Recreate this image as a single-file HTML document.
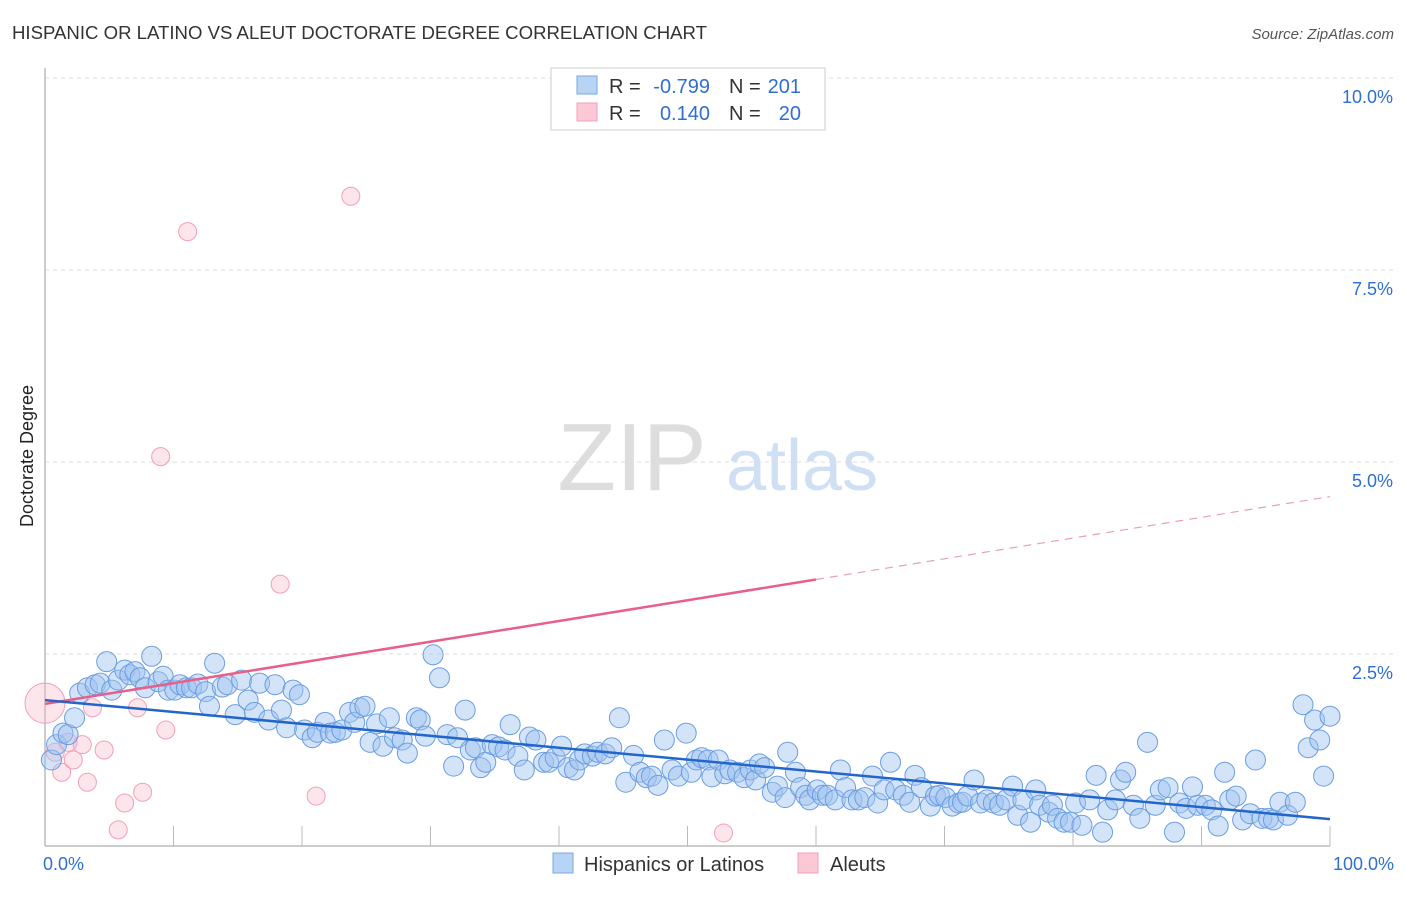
<!DOCTYPE html>
<html><head><meta charset="utf-8"><style>
body{margin:0;background:#fff;font-family:"Liberation Sans",sans-serif}
svg text{font-family:"Liberation Sans",sans-serif}
</style></head><body>
<svg id="chart" width="1406" height="892" xmlns="http://www.w3.org/2000/svg">
<text x="12" y="39" font-size="18.6" fill="#333">HISPANIC OR LATINO VS ALEUT DOCTORATE DEGREE CORRELATION CHART</text>
<text x="1394" y="39" font-size="15" fill="#555" font-style="italic" text-anchor="end">Source: ZipAtlas.com</text>
<g>
<text x="632" y="490" font-size="96" fill="#ddd" font-family="Liberation Serif" text-anchor="middle">ZIP</text>
<text x="802" y="490" font-size="72" fill="#cfe0f5" text-anchor="middle">atlas</text>
</g>
<g id="grid"></g>
<g id="axes"></g>
<g id="marks"></g>
<text transform="translate(33,456) rotate(-90)" font-size="18" fill="#222" text-anchor="middle">Doctorate Degree</text>
<g>
<rect x="551" y="68" width="274" height="62" fill="#fff" stroke="#ccc"/>
<rect x="577" y="76" width="20" height="18" fill="#b8d4f5" stroke="#7aa7e0"/>
<rect x="577" y="103" width="20" height="18" fill="#fcc8d6" stroke="#f0a0b8"/>
<text x="609" y="93" font-size="20" fill="#333">R =</text>
<text x="710" y="93" font-size="20" fill="#2f6fd0" text-anchor="end">-0.799</text>
<text x="729" y="93" font-size="20" fill="#333">N =</text>
<text x="801" y="93" font-size="20" fill="#2f6fd0" text-anchor="end">201</text>
<text x="609" y="120" font-size="20" fill="#333">R =</text>
<text x="710" y="120" font-size="20" fill="#2f6fd0" text-anchor="end">0.140</text>
<text x="729" y="120" font-size="20" fill="#333">N =</text>
<text x="801" y="120" font-size="20" fill="#2f6fd0" text-anchor="end">20</text>
</g>
<g>
<rect x="553" y="853" width="20" height="20" fill="#b8d4f5" stroke="#7aa7e0"/>
<text x="584" y="871" font-size="20" fill="#333">Hispanics or Latinos</text>
<rect x="798" y="853" width="20" height="20" fill="#fcc8d6" stroke="#f0a0b8"/>
<text x="830" y="871" font-size="20" fill="#333">Aleuts</text>
</g>
</svg>
<script>
const blueX=[0.5,0.9,1.4,1.8,2.3,2.7,3.3,3.9,4.3,4.8,5.2,5.7,6.2,6.6,7.0,7.4,7.8,8.3,8.8,9.2,9.6,10.1,10.5,11.0,11.4,11.9,12.5,12.8,13.2,13.8,14.2,14.8,15.3,15.8,16.3,16.7,17.4,17.9,18.4,18.8,19.3,19.8,20.2,20.8,21.2,21.8,22.2,22.6,23.1,23.7,24.1,24.5,24.9,25.3,25.8,26.3,26.8,27.2,27.8,28.2,28.9,29.2,29.6,30.2,30.7,31.3,31.8,32.1,32.7,33.1,33.5,33.9,34.3,34.8,35.3,35.8,36.2,36.8,37.3,37.7,38.2,38.8,39.2,39.7,40.2,40.7,41.2,41.6,42.0,42.6,43.0,43.6,44.1,44.7,45.2,45.8,46.3,46.8,47.2,47.7,48.2,48.8,49.3,49.9,50.3,50.7,51.1,51.6,51.9,52.4,52.9,53.3,53.9,54.4,54.9,55.3,55.6,56.0,56.6,57.0,57.6,57.8,58.4,58.8,59.2,59.5,60.1,60.5,60.9,61.5,61.9,62.3,62.8,63.3,63.8,64.4,64.8,65.3,65.8,66.2,66.8,67.3,67.7,68.2,68.9,69.3,69.6,70.1,70.6,71.1,71.4,71.8,72.3,72.8,73.3,73.8,74.3,74.8,75.3,75.7,76.1,76.7,77.1,77.4,78.1,78.4,78.8,79.3,79.8,80.2,80.7,81.3,81.8,82.3,82.7,83.3,83.7,84.1,84.7,85.2,85.8,86.4,86.8,87.4,87.9,88.3,88.8,89.3,89.7,90.3,90.8,91.3,91.8,92.2,92.7,93.2,93.8,94.2,94.7,95.2,95.6,96.1,96.7,97.3,97.9,98.3,98.8,99.2,99.5,100.0];
const blueY=[1.12,1.32,1.47,1.45,1.67,1.99,2.06,2.10,2.12,2.40,2.03,2.16,2.29,2.23,2.27,2.19,2.06,2.47,2.14,2.21,2.03,2.03,2.10,2.06,2.06,2.11,2.01,1.82,2.38,2.07,2.10,1.71,2.16,1.90,1.74,2.12,1.64,2.10,1.77,1.54,2.03,1.97,1.51,1.41,1.48,1.61,1.47,1.48,1.51,1.74,1.61,1.80,1.82,1.35,1.59,1.30,1.67,1.41,1.38,1.21,1.67,1.64,1.43,2.49,2.19,1.45,1.04,1.41,1.77,1.25,1.28,1.02,1.09,1.32,1.29,1.25,1.58,1.17,0.99,1.42,1.38,1.09,1.09,1.15,1.30,1.02,0.99,1.12,1.20,1.17,1.22,1.20,1.28,1.67,0.83,1.18,0.96,0.89,0.91,0.79,1.38,0.99,0.91,1.47,0.96,1.12,1.15,1.12,0.90,1.12,0.94,0.99,0.96,0.89,0.99,0.86,1.07,1.02,0.70,0.78,0.63,1.22,0.96,0.76,0.66,0.60,0.73,0.66,0.66,0.60,0.99,0.76,0.60,0.60,0.63,0.91,0.56,0.73,1.09,0.73,0.66,0.57,0.92,0.76,0.52,0.65,0.66,0.63,0.52,0.56,0.57,0.65,0.86,0.56,0.60,0.56,0.53,0.60,0.78,0.40,0.60,0.31,0.73,0.53,0.44,0.53,0.36,0.31,0.31,0.56,0.27,0.60,0.92,0.18,0.47,0.60,0.86,0.96,0.53,0.36,1.35,0.53,0.73,0.76,0.18,0.56,0.49,0.77,0.53,0.53,0.47,0.26,0.96,0.60,0.65,0.34,0.42,1.12,0.36,0.36,0.34,0.57,0.40,0.57,1.84,1.28,1.64,1.38,0.91,1.69];
const pinkX=[0.0,0.8,1.3,1.8,2.9,3.3,3.7,4.6,5.7,6.2,7.2,7.6,9.0,9.4,11.1,18.3,21.1,23.8,52.8,2.2];
const pinkY=[1.86,1.22,0.96,1.35,1.32,0.83,1.80,1.25,0.21,0.56,1.80,0.70,5.07,1.51,8.0,3.41,0.65,8.46,0.17,1.12];
const yTicks=[2.5,5.0,7.5,10.0];
const yTickLabels=["2.5%","5.0%","7.5%","10.0%"];
const xTickLabels=["0.0%","100.0%"];
const blueTrend=[1.9,0.35];
const pinkTrend=[1.85,4.55];
const pinkSolidEnd=60;

const NS="http://www.w3.org/2000/svg";
const X0=45,X1=1330,Y0=846,PPY=76.8;
function sx(v){return X0+(X1-X0)*v/100;}
function sy(v){return Y0-v*PPY;}
function mk(tag,attrs,parent){const e=document.createElementNS(NS,tag);for(const k in attrs)e.setAttribute(k,attrs[k]);parent.appendChild(e);return e;}
const grid=document.getElementById('grid'),axes=document.getElementById('axes'),marks=document.getElementById('marks');
yTicks.forEach((t,i)=>{
  const l=mk('line',{x1:X0,x2:1394,y1:sy(t),y2:sy(t),stroke:'#ddd','stroke-dasharray':'4,4'},grid);
  
  
  const tx=mk('text',{x:1393,y:sy(t)+25,'font-size':18,fill:'#2f6fd0','text-anchor':'end'},axes);
  tx.textContent=yTickLabels[i];
  
  
});
const ax=mk('line',{x1:X0,x2:X1,y1:Y0,y2:Y0,stroke:'#bbb','stroke-width':1.5},axes);


const ay=mk('line',{x1:X0,x2:X0,y1:68,y2:Y0,stroke:'#bbb','stroke-width':1.5},axes);


for(let i=1;i<=10;i++){
  const t=mk('line',{x1:sx(i*10),x2:sx(i*10),y1:Y0,y2:Y0-20,stroke:'#bbb'},axes);
  
  
}
[[0,'start',X0-2],[100,'end',1394]].forEach((d,i)=>{
  const tx=mk('text',{x:d[2],y:870,'font-size':18,fill:'#2f6fd0','text-anchor':d[1]},axes);
  tx.textContent=xTickLabels[i];
  
  
});
pinkX.forEach((x,i)=>{
  const c=mk('circle',{cx:sx(x),cy:sy(pinkY[i]),r:i===0?20:9,fill:'rgba(248,180,200,0.35)',stroke:'#f0a0b8','stroke-width':1},marks);
  
  
});
blueX.forEach((x,i)=>{
  const c=mk('circle',{cx:sx(x),cy:sy(blueY[i]),r:10,fill:'rgba(160,195,240,0.45)',stroke:'#6a9de0','stroke-width':1},marks);
  
  
});
const pm=pinkTrend[0]+(pinkTrend[1]-pinkTrend[0])*pinkSolidEnd/100;
const p1=mk('line',{x1:sx(0),y1:sy(pinkTrend[0]),x2:sx(pinkSolidEnd),y2:sy(pm),stroke:'#e8608a','stroke-width':2.5},marks);


const p2=mk('line',{x1:sx(pinkSolidEnd),y1:sy(pm),x2:sx(100),y2:sy(pinkTrend[1]),stroke:'#e8a0b8','stroke-width':1.2,'stroke-dasharray':'8,6'},marks);


const b=mk('line',{x1:sx(0),y1:sy(blueTrend[0]),x2:sx(100),y2:sy(blueTrend[1]),stroke:'#2266cc','stroke-width':2.5},marks);


</script>
</body></html>
